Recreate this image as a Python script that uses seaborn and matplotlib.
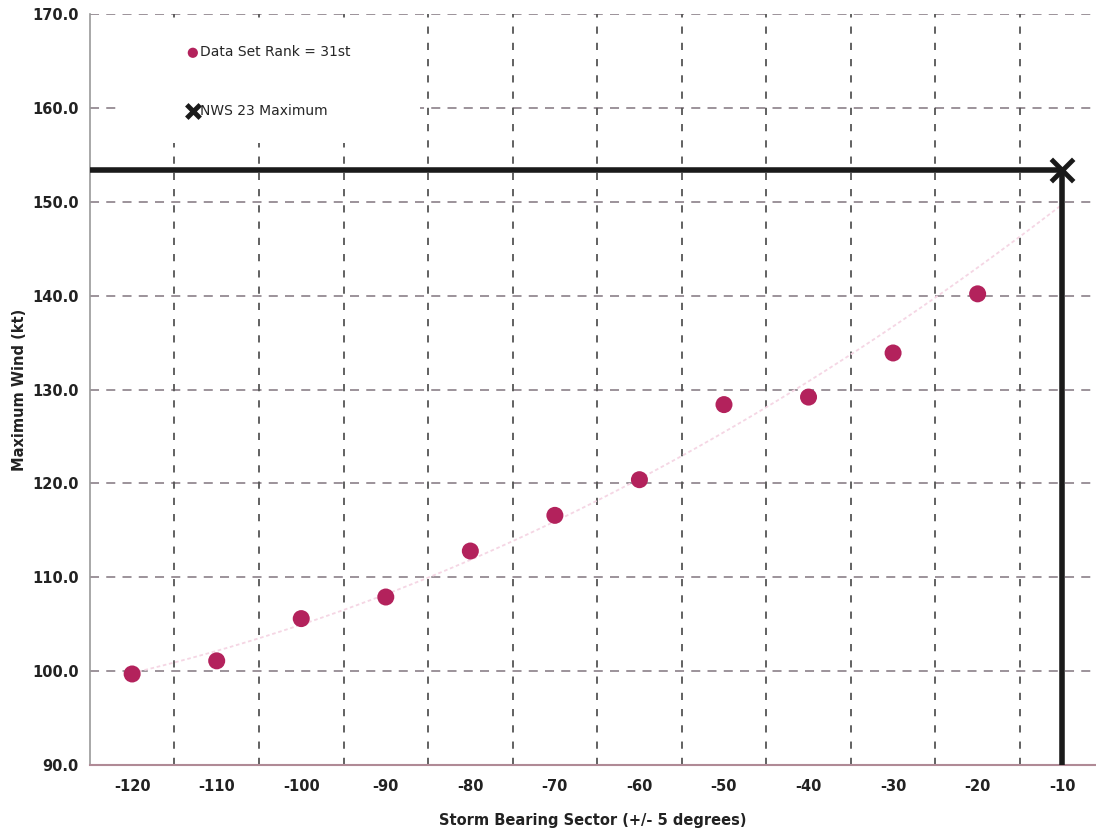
import numpy as np
import pandas as pd
import matplotlib
matplotlib.use("Agg")
import matplotlib.pyplot as plt
from matplotlib.patches import Rectangle
import seaborn as sns

# Data
sectors = [-120, -110, -100, -90, -80, -70, -60, -50, -40, -30, -20]
max_wind = [99.7, 101.1, 105.6, 107.9, 112.8, 116.6, 120.4, 128.4, 129.2, 133.9, 140.2]
nws_sector = [-10]
nws_max = [153.4]
x_ticks = [-120, -110, -100, -90, -80, -70, -60, -50, -40, -30, -20, -10]
y_ticks = [90, 100, 110, 120, 130, 140, 150, 160, 170]

sns.set_theme(style="white")
plt.rcParams['font.family'] = ['DejaVu Sans']

fig = plt.figure(figsize=(10.96, 8.32), dpi=100)
ax = fig.add_axes([0.082, 0.0805, 0.918, 0.9025])

ax.set_xlim(-125, -6)
ax.set_ylim(90, 170)

# grid
for yv in y_ticks[1:]:
    ax.axhline(yv, color="#948a92", lw=1.3, ls=(0, (5, 4)), zorder=0)
for xv in np.arange(-115, -5, 10):
    ax.axvline(xv, color="#555555", lw=1.3, ls=(0, (4, 5)), zorder=0)

# white legend area covering grid
ax.add_patch(Rectangle((0.03, 0.828), 0.298, 0.16, transform=ax.transAxes,
                       facecolor="white", edgecolor="none", zorder=0.5))

# trend line (faint)
coef = np.polyfit(sectors + nws_sector, max_wind + nws_max, 2)
xt = np.linspace(-120, -10, 100)
ax.plot(xt, np.polyval(coef, xt), color="#f5d6e4", lw=1.3, ls=(0, (2, 1.5)), zorder=1)

df = pd.DataFrame({"sector": sectors, "wind": max_wind})
sns.scatterplot(data=df, x="sector", y="wind", ax=ax, color="#b3225c", s=150,
                edgecolor="none", zorder=3, label="Data Set Rank = 31st")

# NWS lines
ax.plot([-125, nws_sector[0]], [nws_max[0], nws_max[0]], color="#1a1a1a", lw=4, zorder=4,
        solid_capstyle="butt")
ax.plot([nws_sector[0], nws_sector[0]], [nws_max[0], 90], color="#1a1a1a", lw=4, zorder=4,
        solid_capstyle="butt")
ax.scatter(nws_sector, nws_max, marker="x", s=260, color="#1a1a1a", linewidths=3.5, zorder=5,
           label="NWS 23 Maximum")

ax.set_xticks(x_ticks)
ax.set_xticklabels([str(v) for v in x_ticks], fontweight="bold", fontsize=10.5, color="#222222")
ax.set_yticks(y_ticks)
ax.set_yticklabels([f"{v:.1f}" for v in y_ticks], fontweight="bold", fontsize=10.5, color="#222222")
ax.tick_params(axis="x", pad=10, length=0)
ax.tick_params(axis="y", pad=8, length=0)

ax.set_xlabel("Storm Bearing Sector (+/- 5 degrees)", fontweight="bold", fontsize=10.5,
              color="#222222", labelpad=14)
ax.set_ylabel("Maximum Wind (kt)", fontweight="bold", fontsize=10.5, color="#222222", labelpad=4)

for s in ["top", "right"]:
    ax.spines[s].set_visible(False)
ax.spines["left"].set_color("#999999")
ax.spines["bottom"].set_color("#b08a96")
ax.spines["left"].set_linewidth(1.2)
ax.spines["bottom"].set_linewidth(1.5)

leg = ax.legend(loc="upper left", bbox_to_anchor=(0.083, 0.975), frameon=False, fontsize=10,
                labelspacing=3.2, handletextpad=0.05, handlelength=1.0, markerscale=0.6)

fig.savefig("out.png", dpi=100)
